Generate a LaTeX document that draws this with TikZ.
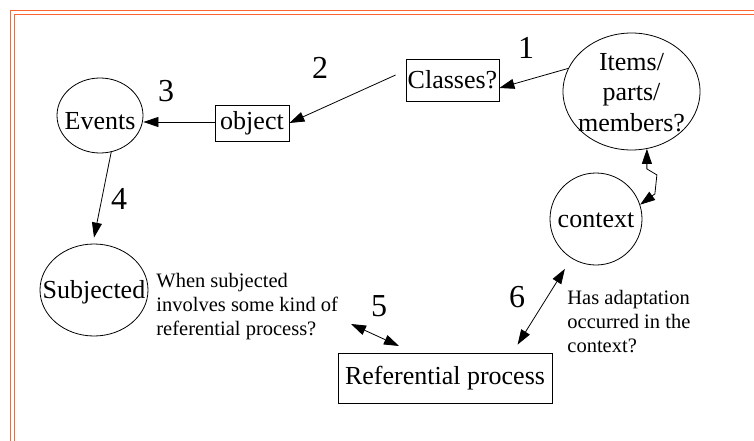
\documentclass[tikz,border=0pt]{standalone}
\usepackage{fontspec}
\setmainfont{Liberation Serif}
\usetikzlibrary{shapes.geometric,arrows.meta,shadows,calc}
\definecolor{frameorange}{RGB}{255,99,51}
\begin{document}
\begin{tikzpicture}[x=1pt,y=-1pt,
  line width=0.8pt,
  box/.style={draw, fill=white, inner sep=0pt, font=\fontsize{26}{30}\selectfont,
    drop shadow={shadow xshift=1.2pt, shadow yshift=-1.2pt, fill=black!40, opacity=1}},
  oval/.style={draw, ellipse, inner sep=0pt},
  lbl/.style={inner sep=0pt, font=\fontsize{26}{30}\selectfont, text height=17pt, text depth=0pt},
  mlbl/.style={inner sep=0pt, font=\fontsize{26}{30.5}\selectfont, align=center},
  num/.style={inner sep=0pt, font=\fontsize{32}{36}\selectfont},
  note/.style={inner sep=0pt, anchor=north west, align=left, font=\fontsize{20.5}{24}\selectfont},
  arr/.style={-{Triangle[length=15pt,width=10pt]}},
  darr/.style={{Triangle[length=15pt,width=10pt]}-{Triangle[length=15pt,width=10pt]}},
  orangeline/.style={draw=frameorange, line width=1pt}
]
\useasboundingbox (0,0) rectangle (754,441);
% frame
\draw[orangeline] (10.7,441) -- (10.7,10.7) -- (754,10.7);
\draw[orangeline] (14.7,441) -- (14.7,14.7) -- (754,14.7);

% nodes
\node[oval, minimum width=86pt, minimum height=75pt] (events) at (100,115.5) {};
\node[lbl] (events-t) at (100,121) {Events};
\node[box, minimum width=74pt, minimum height=36pt] (object) at (252,123) {object};
\node[box, minimum width=93pt, minimum height=42pt] (classes) at (452.5,80) {Classes?};
\node[oval, minimum width=137pt, minimum height=117pt] (items) at (631.5,91.5) {};
\node[mlbl] (items-t) at (631.5,92.5) {Items/\\parts/\\members?};
\node[oval, minimum width=92pt, minimum height=92pt] (context) at (596,219) {};
\node[lbl] (context-t) at (context) {context};
\node[oval, minimum width=108pt, minimum height=92pt] (subjected) at (94,290) {};
\node[lbl] (subjected-t) at (subjected) {Subjected};
\node[box, minimum width=214pt, minimum height=50pt] (ref) at (445,378) {Referential process};

% connectors
\draw[arr] (items.160) -- ([yshift=-8pt]classes.east);
\draw[arr] ([xshift=-10pt,yshift=5pt]classes.west) -- (object.east);
\draw[arr] ([yshift=1pt]object.west) -- ([yshift=1pt]object.west -| events.east);
\draw[arr] (events.-73) -- ([yshift=6pt]subjected.north);
\coordinate (c5a) at (351,324);
\coordinate (c5b) at (399,346);
\draw[darr] (c5a) -- (c5b);
\draw[darr, shorten <=58.8pt, shorten >=9.4pt] (context.center) -- ($(ref.north west)+(175,0)$);
\draw[darr] (items.-75) -- ++(0,20) -- ++(10,6) -- ++(-2,19) -- (context.18);

% numbers
\node[num] (n1) at (526,48) {1};
\node[num] (n2) at (320,68) {2};
\node[num] (n3) at (166,91) {3};
\node[num] (n4) at (119,199) {4};
\node[num] (n5) at (379,306) {5};
\node[num] (n6) at (517,297) {6};

% notes
\node[note] (note1) at (156,273) {When subjected\\involves some kind of\\referential process?};
\node[note] (note2) at (567,290) {Has adaptation\\occurred in the\\context?};
\end{tikzpicture}
\end{document}
